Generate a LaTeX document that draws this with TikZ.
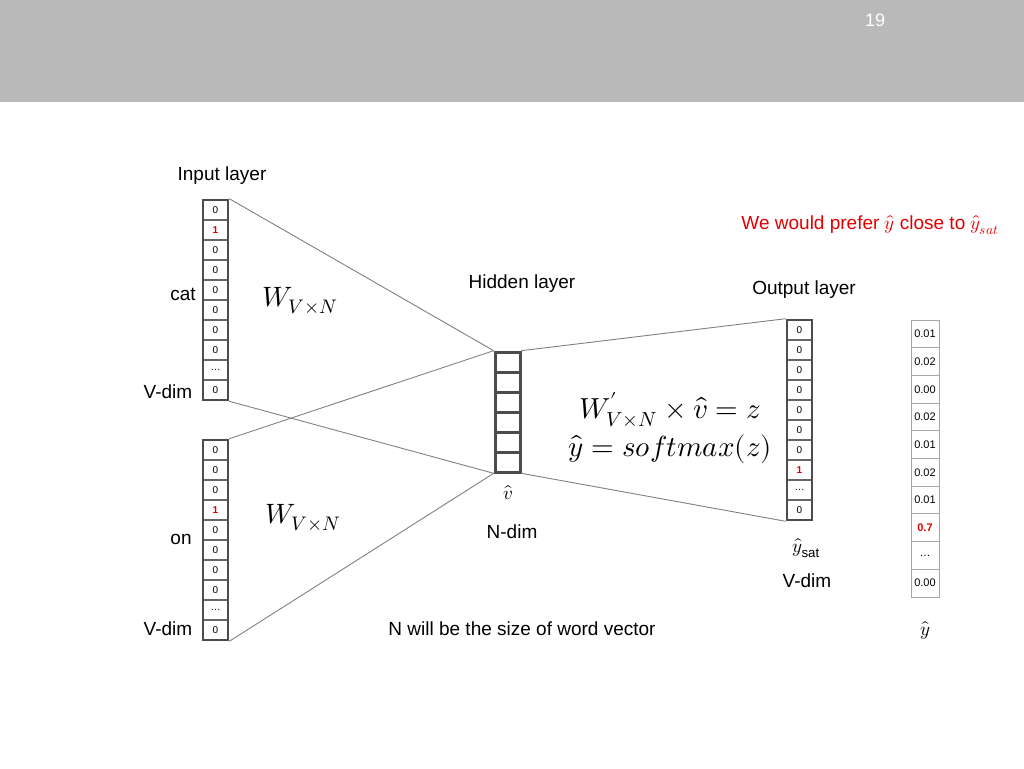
\documentclass[tikz,border=0pt]{standalone}
\usepackage{fontspec}
\setmainfont{Liberation Sans}
\usepackage{unicode-math}
\setmathfont{Latin Modern Math}
\begin{document}
\begin{tikzpicture}[x=1pt,y=-1pt,
  cell/.style={draw=gray!80!black,line width=1.6pt,minimum width=25pt,minimum height=20pt,inner sep=0pt,font=\fontsize{10}{11}\selectfont},
  frame/.style={draw=gray!60!black,line width=2.6pt,inner sep=0pt},
  hcell/.style={draw=gray!60!black,line width=3pt,minimum width=25pt,minimum height=20pt,inner sep=0pt},
  pcell/.style={draw=gray!70,line width=1pt,minimum width=28pt,minimum height=27.7pt,inner sep=0pt,font=\fontsize{11}{12}\selectfont},
  conn/.style={draw=gray,line width=0.9pt},
  lab/.style={font=\fontsize{19}{21}\selectfont},
  red1/.style={text=red!85!black,font=\fontsize{10}{11}\selectfont\bfseries}]
\useasboundingbox (0,0) rectangle (1024,768);
\fill[gray!55] (0,0) rectangle (1024,102);
\node[text=white,font=\fontsize{18}{20}\selectfont] (pg) at (875,20) {19};
% cat vector
\foreach \v [count=\i] in {0,1,0,0,0,0,0,0,\dots,0}{
  \ifnum\i=2 \node[cell,red1] (c\i) at (215.5,200+\i*20-10) {\v};
  \else \node[cell] (c\i) at (215.5,200+\i*20-10) {\v};\fi}
\node[frame,minimum width=25pt,minimum height=200pt] (cat) at (215.5,300) {};
% on vector
\foreach \v [count=\i] in {0,0,0,1,0,0,0,0,\dots,0}{
  \ifnum\i=4 \node[cell,red1] (o\i) at (215.5,440+\i*20-10) {\v};
  \else \node[cell] (o\i) at (215.5,440+\i*20-10) {\v};\fi}
\node[frame,minimum width=25pt,minimum height=200pt] (on) at (215.5,540) {};
% hidden
\foreach \i in {1,...,6}{\node[hcell] (h\i) at (507.5,352+\i*20-10) {};}
\node[frame,minimum width=25pt,minimum height=120pt] (hid) at (507.5,412) {};
% output
\foreach \v [count=\i] in {0,0,0,0,0,0,0,1,\dots,0}{
  \ifnum\i=8 \node[cell,red1] (u\i) at (799.5,320+\i*20-10) {\v};
  \else \node[cell] (u\i) at (799.5,320+\i*20-10) {\v};\fi}
\node[frame,minimum width=25pt,minimum height=200pt] (out) at (799.5,420) {};
% probabilities
\foreach \v [count=\i] in {0.01,0.02,0.00,0.02,0.01,0.02,0.01,0.7,\dots,0.00}{
  \ifnum\i=8 \node[pcell,text=red!85!black,font=\fontsize{11}{12}\selectfont\bfseries] (p\i) at (925,320+\i*27.7-13.85) {\v};
  \else \node[pcell] (p\i) at (925,320+\i*27.7-13.85) {\v};\fi}
% connectors
\draw[conn] (cat.north east) -- (hid.north west);
\draw[conn] (cat.south east) -- (hid.south west);
\draw[conn] (on.north east) -- (hid.north west);
\draw[conn] (on.south east) -- (hid.south west);
\draw[conn] (hid.north east) -- (out.north west);
\draw[conn] (hid.south east) -- (out.south west);
% labels
\node[lab] (l1) at (222,176) {Input layer};
\node[lab] (l2) at (183,294) {cat};
\node[lab] (l3) at (168,392) {V-dim};
\node[lab] (l4) at (181,539) {on};
\node[lab] (l5) at (168,629) {V-dim};
\node[lab] (l6) at (522,284) {Hidden layer};
\node[lab] (l7) at (512,532) {N-dim};
\node[lab] (l8) at (804,290) {Output layer};
\node[lab] (l9) at (807,581) {V-dim};
\node[lab] (l10) at (522,629) {N will be the size of word vector};
\node[lab,text=red!90!black] (l11) at (870,225) {We would prefer $\hat{y}$ close to $\hat{y}_{sat}$};
\node[font=\fontsize{28}{30}\selectfont] (w1) at (300,301) {$W_{V\times N}$};
\node[font=\fontsize{28}{30}\selectfont] (w2) at (303,518) {$W_{V\times N}$};
\node[font=\fontsize{19}{21}\selectfont] (vh) at (508,493) {$\hat{v}$};
\node[font=\fontsize{19}{21}\selectfont] (ys) at (806,548) {$\hat{y}_{\mathrm{sat}}$};
\node[font=\fontsize{19}{21}\selectfont] (yh) at (925,630) {$\hat{y}$};
\node[font=\fontsize{29}{34}\selectfont,align=center] (eq) at (670,428) {$W'_{V\times N}\times\hat{v}=z$\\[4pt]$\hat{y}=softmax(z)$};
\end{tikzpicture}
\end{document}
